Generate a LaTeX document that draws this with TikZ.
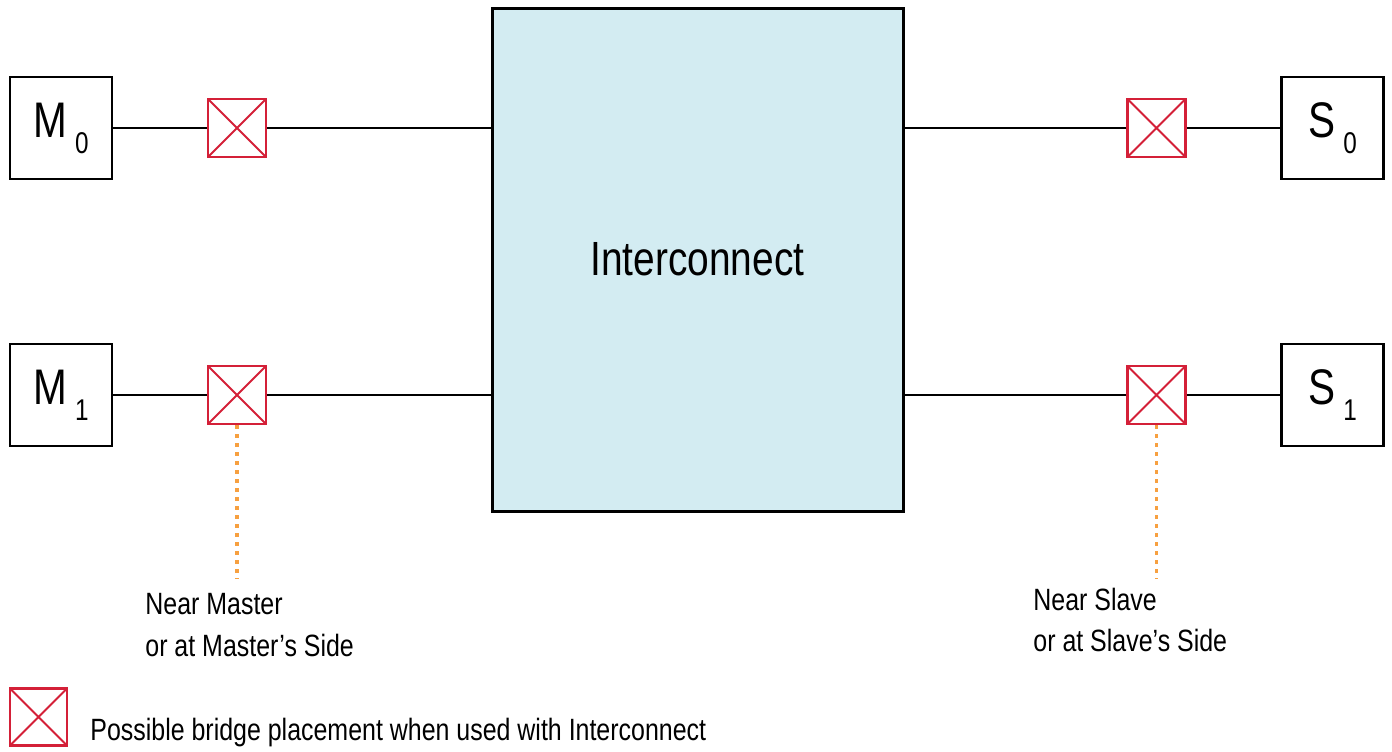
\documentclass[tikz,border=0pt]{standalone}
\usepackage{fontspec}
\setmainfont{Liberation Sans}[FakeStretch=0.81]
\usetikzlibrary{positioning,calc}
\definecolor{bridgered}{RGB}{212,32,56}
\definecolor{hintorange}{RGB}{247,160,64}
\definecolor{icblue}{RGB}{211,236,242}

\newcommand{\unitlab}[2]{#1\hspace{4pt}\raisebox{-8pt}{\fontsize{15}{15}\selectfont #2}}

\begin{document}
\begin{tikzpicture}[
      x=0.5pt,y=-0.5pt,
      unit/.style={draw, line width=1.2pt, minimum size=51pt, inner sep=0pt, font=\fontsize{25}{25}\selectfont},
      bridge/.style={draw=bridgered, line width=1.2pt, minimum size=29pt, inner sep=0pt,
        path picture={\draw[bridgered, line width=1pt] (path picture bounding box.north west) -- (path picture bounding box.south east)
          (path picture bounding box.north east) -- (path picture bounding box.south west);}},
      wire/.style={draw, line width=1pt},
      hint/.style={draw=hintorange, line width=1.8pt, dash pattern=on 2pt off 2.5pt},
      label/.style={font=\fontsize{15.4}{15.4}\selectfont, inner sep=0pt}
    ]
      \useasboundingbox (0,0) rectangle (1392,751);
      % interconnect
      \node[draw, fill=icblue, line width=1.5pt, minimum width=205.5pt, minimum height=251.5pt,
        font=\fontsize{24}{24}\selectfont] (ic) at (697.5,259.5) {Interconnect};
      % masters and slaves
      \node[unit] (m0) at (61,128) {\unitlab{M}{0}};
      \node[unit] (m1) at (61,395) {\unitlab{M}{1}};
      \node[unit] (s0) at (1332.5,128) {\unitlab{S}{0}};
      \node[unit] (s1) at (1332.5,395) {\unitlab{S}{1}};
      % bridges
      \node[bridge] (bm0) at (237,128) {};
      \node[bridge] (bm1) at (237,395) {};
      \node[bridge] (bs0) at (1156.5,128) {};
      \node[bridge] (bs1) at (1156.5,395) {};
      \draw[wire] (m0) -- (bm0) (bm0) -- (bm0 -| ic.west);
      \draw[wire] (m1) -- (bm1) (bm1) -- (bm1 -| ic.west);
      \draw[wire] (s0) -- (bs0) (bs0) -- (bs0 -| ic.east);
      \draw[wire] (s1) -- (bs1) (bs1) -- (bs1 -| ic.east);
      % placement hints
      \coordinate (tm) at (237,579);
      \coordinate (ts) at (1156.5,579);
      \draw[hint] (bm1.south) -- (tm);
      \draw[hint] (bs1.south) -- (ts);
      \node[label, anchor=base west] (nearm) at (145,614) {Near Master};
      \node[label, anchor=base west] (sidem) at (145,656) {or at Master’s Side};
      \node[label, anchor=base west] (nears) at (1033,610) {Near Slave};
      \node[label, anchor=base west] (sides) at (1033,651) {or at Slave’s Side};
      % legend
      \node[bridge, minimum size=28.5pt] (key) at (38.5,717) {};
      \node[label, anchor=base west] (keytext) at (90,740) {Possible bridge placement when used with Interconnect};
    \end{tikzpicture}
\end{document}
